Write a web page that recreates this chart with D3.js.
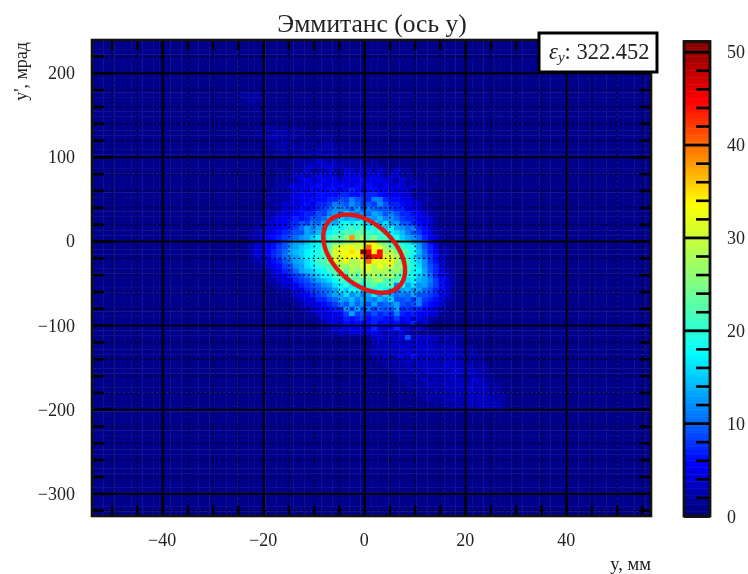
<!DOCTYPE html>
<html><head><meta charset="utf-8">
<script src="https://cdn.jsdelivr.net/npm/d3@7"></script>
<style>html,body{margin:0;background:#fff}svg{display:block}text{font-family:"Liberation Serif",serif;fill:#222}</style>
</head><body><svg id="c" width="748" height="574"></svg>
<script>
const titleText = "Эммитанс (ось y)";
const xLabelText = "y, мм";
const yLabelText = "y', мрад";
const emittanceValue = "322.452";
const xMajor = [-40,-20,0,20,40];
const xMinor = [-50,-45,-35,-30,-25,-15,-10,-5,5,10,15,25,30,35,45,50,55];
const yMajor = [-300,-200,-100,0,100,200];
const yMinor = [-320,-280,-260,-240,-220,-180,-160,-140,-120,-80,-60,-40,-20,20,40,60,80,120,140,160,180,220];
const cbMajor = [0,10,20,30,40,50];
const cbMinor = [2,4,6,8,12,14,16,18,22,24,26,28,32,34,36,38,42,44,46,48];
const binCount = 100;
const xExtent = [-53.9,56.8];
const yExtent = [-327,239];
const zExtent = [0,51.1];
const background = 1;
const ellipseCenter = [0,-15];
const ellipseHalfWidth = [8.1,46.5];
const ellipseCorrelation = -0.43;
const colorStops = [0,1,5.6,10,17.5,25,33.5,44.5,51.1];
const colorValues = ["#000080","#00008a","#0000ff","#0068ff","#00ffff","#80ff80","#ffff00","#ff0000","#800000"];

const coreCol = 26, coreRow = 27;
const core = [
[1,1,1,1,1,1,1,2,1,2,2,2,4,2,2,2,4,2,2,4,4,2,4,4,2,4,2,2,4,2,2,1,2,1,2,1,1,1,1,1,1,1,1,1],
[1,1,1,1,1,1,1,1,2,2,4,4,2,4,5,4,4,4,2,5,4,5,4,4,5,4,2,4,4,2,2,2,1,2,1,1,1,1,1,1,1,1,1,1],
[1,1,1,1,1,1,1,2,2,2,2,4,5,4,4,5,4,5,4,4,5,4,6,5,4,5,4,4,2,4,2,2,2,1,1,2,1,1,1,1,1,1,1,1],
[1,1,1,1,1,1,1,2,2,4,4,4,4,5,6,4,5,5,6,5,4,6,5,6,5,4,5,4,4,4,2,4,2,2,1,1,1,1,1,1,1,1,1,1],
[1,1,1,1,1,1,2,2,2,4,4,5,4,6,5,5,6,6,5,6,7,6,5,6,6,5,5,5,4,4,4,2,2,1,2,1,1,1,1,1,1,1,1,1],
[1,1,1,1,1,1,2,2,2,4,4,5,5,5,6,6,6,6,7,7,6,6,7,7,7,6,5,5,5,4,4,2,2,2,1,1,1,1,1,1,1,1,1,1],
[1,1,1,1,1,2,2,2,2,4,4,5,5,6,6,6,7,7,9,8,11,9,8,7,11,11,7,6,6,5,4,4,2,2,2,1,1,1,1,1,1,1,1,1],
[1,1,1,1,1,1,2,2,4,4,4,5,6,5,7,7,8,11,10,9,12,10,8,9,8,12,9,7,7,6,5,4,4,2,1,2,1,1,1,1,1,1,1,1],
[1,1,1,1,1,2,2,2,4,4,5,6,5,6,7,8,10,12,12,11,9,13,9,11,10,9,9,8,7,7,5,5,4,2,2,1,1,1,1,1,1,1,1,1],
[1,1,1,1,1,2,2,4,4,5,5,6,7,7,9,8,11,13,10,17,13,11,12,10,13,12,9,11,9,7,7,6,5,4,2,2,1,1,1,1,1,1,1,1],
[1,1,1,1,2,2,4,4,5,6,7,6,7,9,9,10,13,12,15,13,14,13,16,13,12,14,11,12,10,8,7,7,5,4,4,2,1,1,1,1,1,1,1,1],
[1,1,1,2,2,4,4,5,5,7,7,9,8,11,10,13,14,13,17,18,16,19,17,15,17,13,16,12,13,9,9,7,6,5,4,2,2,1,1,1,1,1,1,1],
[1,1,1,2,2,4,4,5,6,7,8,10,13,11,13,12,16,18,17,20,21,19,23,17,20,18,14,17,13,12,10,11,7,6,4,2,2,1,1,1,1,1,1,1],
[1,1,2,2,4,4,5,6,7,8,9,9,13,12,14,16,17,19,21,22,21,24,22,21,19,21,17,17,16,14,11,9,8,6,5,2,2,1,1,1,1,1,1,1],
[1,1,2,2,4,5,6,7,8,9,10,12,13,15,17,16,21,23,22,25,38,24,28,22,25,20,22,17,19,15,13,12,10,7,5,4,2,1,1,1,1,1,1,1],
[1,1,2,4,4,5,6,7,9,11,13,13,15,17,18,19,21,24,23,28,25,31,27,32,34,24,23,21,21,18,17,14,12,9,6,4,2,1,1,1,1,1,1,1],
[1,1,2,4,4,5,6,8,9,12,13,15,16,17,18,21,23,29,32,31,34,29,31,40,32,31,27,23,22,21,19,18,13,9,7,5,2,2,1,1,1,1,1,1],
[1,1,2,4,4,5,7,8,10,13,14,15,17,18,19,21,24,31,33,32,35,31,50,46,34,44,28,29,24,23,21,18,14,10,7,5,2,2,1,1,1,1,1,1],
[1,1,2,4,4,5,7,8,10,12,13,15,17,18,19,21,23,31,31,34,32,34,38,50,44,44,31,31,27,24,20,17,13,10,8,6,4,2,1,1,1,1,1,1],
[1,1,2,2,4,4,6,7,9,11,13,14,16,18,21,22,25,32,29,33,27,29,31,40,34,31,32,33,28,23,22,18,15,12,8,6,4,2,1,1,1,1,1,1],
[1,1,1,2,2,4,5,6,8,9,12,13,16,17,19,21,21,24,28,25,29,27,32,31,28,33,29,32,25,27,21,19,16,12,9,7,4,2,1,1,1,1,1,1],
[1,1,1,1,2,2,4,5,7,8,10,13,14,15,17,18,21,22,27,23,28,25,28,31,27,29,28,25,27,23,21,17,17,13,9,7,5,2,2,1,1,1,1,1],
[1,1,1,1,2,2,4,4,5,7,8,9,11,13,15,17,17,21,23,21,25,22,28,25,29,24,27,28,23,21,19,18,15,13,10,7,5,4,2,1,1,1,1,1],
[1,1,1,1,1,2,2,4,4,5,7,8,9,11,13,14,16,18,21,19,22,24,21,23,25,28,22,23,21,24,16,17,14,13,11,8,6,4,2,1,1,1,1,1],
[1,1,1,1,1,1,2,2,4,4,5,7,8,9,10,12,13,16,17,20,16,21,18,21,23,19,21,22,11,19,13,16,12,13,10,8,6,4,2,1,1,1,1,1],
[1,1,1,1,1,1,1,2,2,4,4,5,7,8,9,10,11,13,17,15,18,17,15,19,17,20,17,17,9,13,14,12,13,10,9,7,6,4,2,1,1,1,1,1],
[1,1,1,1,1,1,1,1,2,2,4,4,5,7,8,9,11,13,13,16,12,14,11,13,17,12,15,13,10,11,10,13,9,9,8,7,5,4,2,1,1,1,1,1],
[1,1,1,1,1,1,1,1,1,2,2,4,4,5,7,7,9,10,13,12,14,11,13,12,11,14,12,15,9,9,10,8,11,8,7,6,5,2,2,1,1,1,1,1],
[1,1,1,1,1,1,1,1,1,1,2,2,4,4,5,6,7,8,11,9,13,10,12,9,13,9,10,11,13,9,8,9,11,7,6,5,4,2,1,1,1,1,1,1],
[1,1,1,1,1,1,1,1,1,1,1,2,2,4,4,5,6,7,7,12,9,13,9,11,8,10,9,9,13,7,8,7,7,6,5,4,2,2,1,1,1,1,1,1],
[1,1,1,1,1,1,1,1,1,1,1,1,2,2,4,4,4,5,6,8,13,8,9,7,9,7,8,7,11,7,6,7,5,5,4,4,2,1,1,1,1,1,1,1],
[1,1,1,1,1,1,1,1,1,1,1,1,1,2,2,4,4,4,5,7,6,7,8,6,7,7,6,6,8,5,6,4,5,4,2,2,1,1,1,1,1,1,1,1],
[1,1,1,1,1,1,1,1,1,1,1,1,1,1,2,2,4,4,4,6,5,6,5,6,7,5,6,5,6,4,5,7,2,4,2,1,1,1,1,1,1,1,1,1],
[1,1,1,1,1,1,1,1,1,1,1,1,1,1,1,2,2,4,4,4,5,4,5,4,7,4,4,5,7,4,4,2,4,2,1,1,1,1,1,1,1,1,1,1],
[1,1,1,1,1,1,1,1,1,1,1,1,1,1,1,1,2,2,4,2,4,4,4,4,5,4,2,4,2,4,2,2,1,1,1,1,1,1,1,1,1,1,1,1]
];

const tailCol = 50, tailRow = 62;
const tail = [
[3,4,3,3,3,4,9,3,4,3,4,3,2,3,2,2,2,1,1,1,1,1,1,1],
[3,3,3,3,4,3,4,3,4,4,3,3,3,2,3,2,2,1,1,1,1,1,1,1],
[2,3,3,3,3,4,3,3,4,3,4,3,3,3,3,2,2,2,1,1,1,1,1,1],
[3,2,3,3,3,3,4,3,3,4,3,3,3,3,3,3,2,2,2,1,1,1,1,1],
[2,2,3,2,3,4,3,6,3,3,3,4,3,3,3,2,3,2,2,2,1,1,1,1],
[1,2,2,3,2,3,3,3,3,3,3,3,3,3,4,3,3,2,2,2,1,1,1,1],
[1,1,2,2,2,2,3,2,3,3,3,3,3,4,3,3,3,3,2,2,2,1,1,1],
[1,1,1,2,2,2,2,3,2,3,3,3,3,3,3,4,3,3,3,2,2,1,1,1],
[1,1,1,1,2,2,2,2,3,2,3,3,3,3,4,3,3,3,3,3,2,2,1,1],
[1,1,1,1,1,2,2,2,2,3,2,3,3,3,3,3,3,3,4,3,2,2,1,1],
[1,1,1,1,1,1,2,2,2,2,3,2,3,3,3,3,4,3,3,3,3,2,2,1],
[1,1,1,1,1,1,1,2,2,2,2,3,2,3,3,3,3,4,3,3,3,2,2,1],
[1,1,1,1,1,1,1,1,2,2,2,2,3,2,3,3,3,3,3,3,3,3,2,2],
[1,1,1,1,1,1,1,1,1,2,2,2,2,3,3,2,3,3,3,3,3,3,2,2],
[1,1,1,1,1,1,1,1,1,1,1,2,2,2,2,3,2,3,3,3,3,3,3,2],
[1,1,1,1,1,1,1,1,1,1,1,1,1,2,2,2,2,3,2,3,3,3,3,2]
];

const haloCol = 28, haloRow = 18;
const halo = [
[1,1,2,2,2,1,2,1,2,1,1,1,1,1,1,1,1,1,1,1,1,1,1,1,1,1,1,1,1,1,1,1,1],
[1,2,2,1,2,3,2,2,1,2,1,1,1,2,1,1,1,1,1,1,1,1,1,1,1,1,1,1,1,1,1,1,1],
[1,1,2,2,3,2,2,2,2,1,2,1,2,1,2,1,1,1,1,1,1,1,1,1,1,1,1,1,1,1,1,1,1],
[1,1,1,2,2,2,3,2,1,2,2,2,1,2,2,2,1,2,1,1,1,1,1,1,1,1,1,1,1,1,1,1,1],
[1,1,1,1,2,2,2,1,2,2,1,2,2,2,3,2,2,1,2,1,1,1,1,1,1,1,1,1,1,1,1,1,1],
[1,1,1,1,1,2,2,2,1,2,2,2,3,2,2,2,2,2,1,2,1,1,1,1,1,1,1,1,1,1,1,1,1],
[1,1,1,1,1,1,2,1,2,2,2,3,2,2,3,2,2,2,2,1,2,2,1,1,1,1,1,1,1,1,1,1,1],
[1,1,1,1,1,1,1,2,2,2,2,2,4,3,2,3,2,2,2,2,2,1,2,1,1,1,1,1,1,1,1,1,1],
[1,1,1,1,1,1,1,1,2,2,3,4,3,4,4,3,3,2,2,2,3,2,2,2,1,1,1,1,1,1,1,1,1]
];

const farCols = [26,27,28,29,27,28,29,30,26,28,29,32,33,34,35,33,34];
const farRows = [11,11,11,11,12,12,12,12,13,13,14,22,22,22,22,23,23];
const farVals = [2,2,2,2,2,2,2,2,2,2,2,2,2,2,2,2,2];

const W = 748, H = 574;
const plot = {l:92, r:651, t:40, b:516};
const x = d3.scaleLinear().domain(xExtent).range([plot.l, plot.r]);
const y = d3.scaleLinear().domain(yExtent).range([plot.b, plot.t]);
const color = d3.scaleLinear().domain(colorStops).range(colorValues).interpolate(d3.interpolateRgb).clamp(true);
const cb = d3.scaleLinear().domain(zExtent).range([516, 41.5]);

const grid = d3.range(binCount).map(() => new Array(binCount).fill(background));
function paste(m, c0, r0){ m.forEach((row,j)=>row.forEach((v,i)=>{ grid[r0+j][c0+i]=v; })); }
paste(halo, haloCol, haloRow);
paste(core, coreCol, coreRow);
paste(tail, tailCol, tailRow);
farCols.forEach((c,i)=>{ grid[farRows[i]][c]=farVals[i]; });

const dx = (xExtent[1]-xExtent[0])/binCount, dy = (yExtent[1]-yExtent[0])/binCount;
const cells = [];
grid.forEach((row,j)=>row.forEach((v,i)=>cells.push({i,j,v})));

const svg = d3.select("#c");
const defs = svg.append("defs");
const blur = defs.append("filter").attr("id","soft").attr("filterUnits","userSpaceOnUse")
  .attr("x",0).attr("y",0).attr("width",W).attr("height",H).attr("color-interpolation-filters","sRGB");
blur.append("feGaussianBlur").attr("stdDeviation",0.75);
const root = svg.append("g").attr("filter","url(#soft)");
root.append("rect").attr("width",W).attr("height",H).attr("fill","#fff");

root.append("g").selectAll("rect").data(cells).join("rect")
  .attr("x",d=>x(xExtent[0]+d.i*dx))
  .attr("y",d=>y(yExtent[1]-d.j*dy))
  .attr("width",x(xExtent[0]+dx)-x(xExtent[0])+0.4)
  .attr("height",y(yExtent[1]-dy)-y(yExtent[1])+0.4)
  .attr("fill",d=>color(d.v));

function styleAxis(g,w,dash){
  g.select(".domain").remove();
  g.selectAll("line").attr("stroke","#000").attr("stroke-width",w);
  if(dash) g.selectAll("line").attr("stroke-dasharray",dash);
}
const pw = plot.r-plot.l, ph = plot.b-plot.t;
const bottom = `translate(0,${plot.b})`, left = `translate(${plot.l},0)`, top_ = `translate(0,${plot.t})`, right = `translate(${plot.r},0)`;
// grid
root.append("g").attr("transform",bottom).call(d3.axisBottom(x).tickValues(xMinor).tickSize(-ph).tickFormat("")).call(styleAxis,1.3,"1.6 3.2");
root.append("g").attr("transform",left).call(d3.axisLeft(y).tickValues(yMinor).tickSize(-pw).tickFormat("")).call(styleAxis,1.3,"1.6 3.2");
root.append("g").attr("transform",bottom).call(d3.axisBottom(x).tickValues(xMajor).tickSize(-ph).tickFormat("")).call(styleAxis,1.9);
root.append("g").attr("transform",left).call(d3.axisLeft(y).tickValues(yMajor).tickSize(-pw).tickFormat("")).call(styleAxis,1.9);
// ticks
root.append("g").attr("transform",bottom).call(d3.axisBottom(x).tickValues(xMinor).tickSize(-10).tickFormat("")).call(styleAxis,2.6);
root.append("g").attr("transform",top_).call(d3.axisTop(x).tickValues(xMinor).tickSize(-10).tickFormat("")).call(styleAxis,2.6);
root.append("g").attr("transform",left).call(d3.axisLeft(y).tickValues(yMinor).tickSize(-12).tickFormat("")).call(styleAxis,2.6);
root.append("g").attr("transform",right).call(d3.axisRight(y).tickValues(yMinor).tickSize(-12).tickFormat("")).call(styleAxis,2.6);
root.append("g").attr("transform",bottom).call(d3.axisBottom(x).tickValues(xMajor).tickSize(-20).tickFormat("")).call(styleAxis,2.6);
root.append("g").attr("transform",top_).call(d3.axisTop(x).tickValues(xMajor).tickSize(-20).tickFormat("")).call(styleAxis,2.6);
root.append("g").attr("transform",left).call(d3.axisLeft(y).tickValues(yMajor).tickSize(-20).tickFormat("")).call(styleAxis,2.6);
root.append("g").attr("transform",right).call(d3.axisRight(y).tickValues(yMajor).tickSize(-20).tickFormat("")).call(styleAxis,2.6);

// ellipse
const ellipseAngles = d3.range(0,6.3,0.05);
const delta = Math.acos(ellipseCorrelation);
const ell = d3.line()
  .x(t=>x(ellipseCenter[0]+ellipseHalfWidth[0]*Math.cos(t)))
  .y(t=>y(ellipseCenter[1]+ellipseHalfWidth[1]*Math.cos(t-delta))).curve(d3.curveCardinalClosed);
root.append("path").attr("d",ell(ellipseAngles)).attr("fill","none").attr("stroke","#e01515").attr("stroke-width",4.4);

// frame
root.append("rect").attr("x",plot.l).attr("y",plot.t).attr("width",pw).attr("height",ph)
  .attr("fill","none").attr("stroke","#111").attr("stroke-width",2.6);

// tick labels
const fmt = v => String(v).replace("-","\u2212");
root.append("g").selectAll("text").data(xMajor).join("text")
  .attr("x",d=>x(d)).attr("y",546).attr("text-anchor","middle").attr("font-size",18).text(fmt);
root.append("g").selectAll("text").data(yMajor).join("text")
  .attr("x",75).attr("y",d=>y(d)+6.5).attr("text-anchor","end").attr("font-size",18).text(fmt);

// colorbar
const cbX = 684, cbW = 26;
const cbSteps = d3.range(0,51.1,0.25);
root.append("g").selectAll("rect").data(cbSteps).join("rect")
  .attr("x",cbX).attr("width",cbW).attr("y",d=>cb(d+0.25)).attr("height",d=>cb(d)-cb(d+0.25)+0.5)
  .attr("fill",d=>color(d));
root.append("g").attr("transform",`translate(${cbX+cbW},0)`).call(d3.axisRight(cb).tickValues(cbMinor).tickSize(-14).tickFormat("")).call(styleAxis,2.6);
root.append("g").attr("transform",`translate(${cbX+cbW},0)`).call(d3.axisRight(cb).tickValues(cbMajor).tickSize(-cbW).tickFormat("")).call(styleAxis,2.8);
root.append("rect").attr("x",cbX).attr("y",41.5).attr("width",cbW).attr("height",474.5).attr("fill","none").attr("stroke","#111").attr("stroke-width",2.8);
root.append("g").selectAll("text").data(cbMajor).join("text")
  .attr("x",727).attr("y",d=>cb(d)+6.5).attr("font-size",18).text(d=>d);

// title, labels
root.append("text").attr("x",372).attr("y",32).attr("text-anchor","middle").attr("font-size",25.5).text(titleText);
root.append("text").attr("x",651).attr("y",570).attr("text-anchor","end").attr("font-size",18.5).text(xLabelText);
root.append("text").attr("transform","translate(27,42) rotate(-90)").attr("text-anchor","end").attr("font-size",18).text(yLabelText);

// emittance box
root.append("rect").attr("x",539).attr("y",33).attr("width",118).attr("height",39).attr("fill","#fff").attr("stroke","#000").attr("stroke-width",3);
const lbl = root.append("text").attr("x",549).attr("y",58.5).attr("font-size",22.5);
lbl.append("tspan").attr("font-style","italic").text("\u03b5");
lbl.append("tspan").attr("font-style","italic").attr("font-size",15).attr("dy",3).text("y");
lbl.append("tspan").attr("dy",-3).text(": "+emittanceValue);
</script></body></html>
